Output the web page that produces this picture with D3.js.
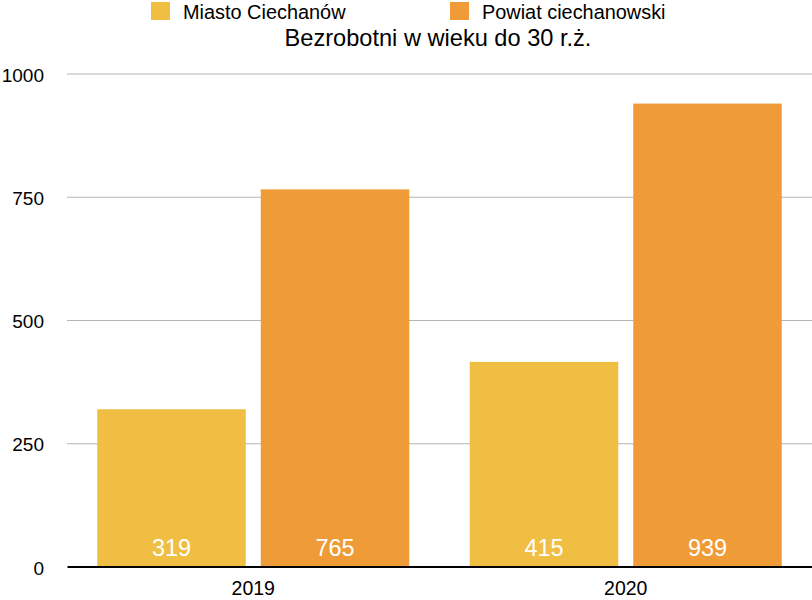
<!DOCTYPE html>
<html><head><meta charset="utf-8">
<script src="https://cdn.jsdelivr.net/npm/d3@7"></script>
<style>body{margin:0;background:#fff}svg{display:block}text{font-family:"Liberation Sans",Arial,Helvetica,sans-serif}</style>
</head><body><svg id="c" width="812" height="600"></svg>
<script>
const years = ["2019", "2020"];
const seriesNames = ["Miasto Ciechanów", "Powiat ciechanowski"];
const miasto = [319, 415];
const powiat = [765, 939];
const yTicks = [0, 250, 500, 750, 1000];
const colors = ["#EFBE42", "#EF9B38"];
const title = "Bezrobotni w wieku do 30 r.ż.";

const svg = d3.select("#c");
const plotLeft = 67, plotRight = 812, plotTop = 73.5, plotBottom = 566.5;
const y = d3.scaleLinear().domain([0, 1000]).range([plotBottom, plotTop]);
const x0 = d3.scaleBand().domain(years).range([plotLeft, plotRight]).padding(0);
const x1 = d3.scaleBand().domain(seriesNames).range([0, x0.bandwidth()])
  .paddingInner(0.0917).paddingOuter(0.185);
const values = [miasto, powiat];

// gridlines
const yAxis = d3.axisLeft(y).tickValues(yTicks).tickSize(-(plotRight - plotLeft)).tickFormat(d3.format("d"));
const ga = svg.append("g").attr("transform", `translate(${plotLeft},0)`).call(yAxis);
ga.select(".domain").remove();
ga.selectAll(".tick line").attr("stroke", "#b5b5b5").attr("stroke-width", 1)
  .filter(d => d === 0).remove();
ga.selectAll(".tick text").attr("x", -23).attr("dy", "0.4em").attr("font-size", 19).attr("fill", "#000")
  .style("font-family", "'Liberation Sans',Arial,sans-serif");

// bars
years.forEach((yr, i) => {
  const g = svg.append("g").attr("transform", `translate(${x0(yr)},0)`);
  seriesNames.forEach((s, j) => {
    const v = values[j][i];
    g.append("rect").attr("x", x1(s)).attr("width", x1.bandwidth())
      .attr("y", y(v)).attr("height", y(0) - y(v)).attr("fill", colors[j]);
    g.append("text").attr("x", x1(s) + x1.bandwidth() / 2).attr("y", y(0) - 10.5)
      .attr("text-anchor", "middle").attr("font-size", 23.5).attr("fill", "#fff").text(v);
  });
});

// x axis
const xAxis = d3.axisBottom(x0).tickSize(0);
const gx = svg.append("g").attr("transform", `translate(0,${plotBottom})`).call(xAxis);
gx.select(".domain").attr("stroke", "#000").attr("stroke-width", 2);
gx.selectAll(".tick text").attr("y", 28.5).attr("dy", 0).attr("font-size", 19.5).attr("fill", "#000")
  .style("font-family", "'Liberation Sans',Arial,sans-serif");

// legend
const legX = [151, 450];
seriesNames.forEach((s, j) => {
  svg.append("rect").attr("x", legX[j]).attr("y", 2).attr("width", 19).attr("height", 18).attr("fill", colors[j]);
  svg.append("text").attr("x", legX[j] + 32).attr("y", 18.5).attr("font-size", 19.9).attr("fill", "#000").text(s);
});

// title
svg.append("text").attr("x", 438).attr("y", 46).attr("text-anchor", "middle")
  .attr("font-size", 23.6).attr("fill", "#000").text(title);
</script></body></html>
